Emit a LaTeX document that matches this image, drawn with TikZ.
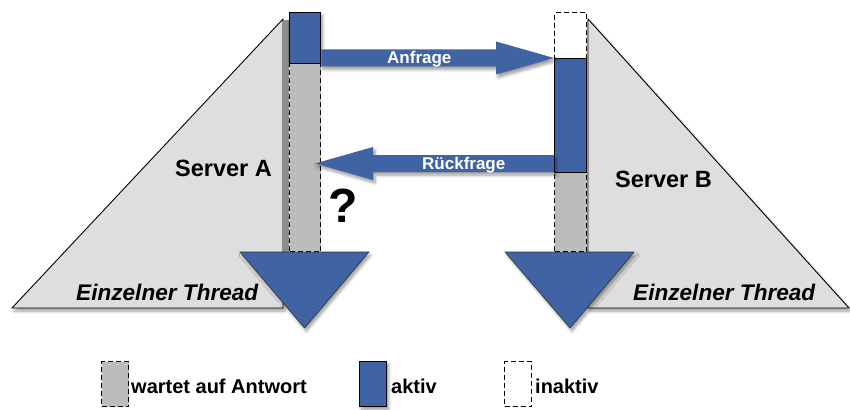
\documentclass[tikz,border=0pt]{standalone}
\usepackage{fontspec}
\setmainfont{Liberation Sans}
\usetikzlibrary{calc,shadows.blur}

\definecolor{actblue}{RGB}{63,99,163}
\definecolor{waitgray}{RGB}{188,188,188}
\definecolor{srvgray}{RGB}{222,222,222}

\tikzset{
  soft/.style={blur shadow={shadow xshift=2pt, shadow yshift=-3pt,
      shadow blur steps=6, shadow blur radius=3pt, shadow opacity=40}},
  seg/.style={rectangle, inner sep=0pt, anchor=north west, line width=1.3pt},
  activeseg/.style={seg, fill=actblue, draw=black},
  waitseg/.style={seg, fill=waitgray, draw=black, dash pattern=on 5pt off 3pt},
  idleseg/.style={seg, fill=white, draw=black, dash pattern=on 5pt off 3pt},
  server/.style={fill=srvgray, draw=black, line width=0.9pt, soft},
  threadtip/.style={fill=actblue, draw=black!80, line width=0.6pt, soft},
  msg/.style={fill=actblue, soft},
  msglabel/.style={inner sep=0pt, anchor=base west, text=white,
      font=\fontsize{17}{17}\selectfont\bfseries},
  bigtext/.style={inner sep=0pt, anchor=base west,
      font=\fontsize{23.5}{23.5}\selectfont\bfseries},
  threadtext/.style={inner sep=0pt, anchor=base west,
      font=\fontsize{22.6}{22.6}\selectfont\bfseries\itshape},
  legendtext/.style={inner sep=0pt, anchor=base west,
      font=\fontsize{20}{20}\selectfont\bfseries},
}

% horizontal block arrow from #1 to #2 (body half height 8.5, head 58 long)
\newcommand\blockarrow[2]{%
  \path[msg] let \p1=(#1), \p2=(#2), \n1={ifthenelse(\x2>\x1,1,-1)} in
    (\x1,{\y1+8.5pt}) -- ({\x2-\n1*58pt},{\y1+8.5pt}) -- ({\x2-\n1*58pt},{\y1+16.5pt})
    -- (\x2,\y2) -- ({\x2-\n1*58pt},{\y1-16.5pt}) -- ({\x2-\n1*58pt},{\y1-8.5pt})
    -- (\x1,{\y1-8.5pt}) -- cycle;}

\begin{document}
\begin{tikzpicture}[x=1pt,y=-1pt]
  \useasboundingbox (0,0) rectangle (850,409);

  % the two servers
  \path[server] (12,308) -- (283,19) -- (283,308) -- cycle;
  \path[server] (588,19) -- (849,308) -- (588,308) -- cycle;
  \fill[black!45] (283,20) rectangle (289,252);
  \fill[black!45] (586,20) rectangle (588,252);

  % thread arrowheads
  \path[threadtip] (240,252) -- (369,252) -- (304.5,328) -- cycle;
  \path[threadtip] (505,252) -- (634,252) -- (570,328) -- cycle;

  % thread of server A
  \node[activeseg, soft, minimum width=31pt, minimum height=51pt] (aAct) at (289,12) {};
  \node[waitseg, minimum width=31pt, minimum height=188pt] (aWait) at (289,63) {};

  % thread of server B
  \node[idleseg, minimum width=32pt, minimum height=46pt] (bIdle) at (554,12) {};
  \node[activeseg, minimum width=32pt, minimum height=114pt] (bAct) at (554,58) {};
  \node[waitseg, minimum width=32pt, minimum height=79pt] (bWait) at (554,172) {};

  % messages between the threads
  \coordinate (reqFrom) at (aAct.east |- 0,58);
  \coordinate (reqTo) at (bAct.north west);
  \blockarrow{reqFrom}{reqTo}
  \node[msglabel] (req) at (387,64) {Anfrage};

  \coordinate (backFrom) at (bAct.west |- 0,163.5);
  \coordinate (backTo) at (315,163.5);
  \blockarrow{backFrom}{backTo}
  \node[msglabel] (back) at (422,169) {Rückfrage};

  % labels
  \node[bigtext] (srvA) at (175,176) {Server A};
  \node[bigtext] (srvB) at (615,187) {Server B};
  \node[threadtext] (thrA) at (76,300) {Einzelner Thread};
  \node[threadtext] (thrB) at (633,300) {Einzelner Thread};
  \node[inner sep=0pt, anchor=base west, font=\fontsize{48}{48}\selectfont\bfseries] (q) at (328,222) {?};

  % legend
  \node[waitseg, minimum width=27pt, minimum height=45pt] (lgWait) at (101,361) {};
  \node[legendtext] (lgWaitT) at (131,393) {wartet auf Antwort};
  \node[activeseg, soft, minimum width=27pt, minimum height=45pt] (lgAct) at (359,361) {};
  \node[legendtext] (lgActT) at (391,393) {aktiv};
  \node[idleseg, minimum width=27pt, minimum height=45pt] (lgIdle) at (504,361) {};
  \node[legendtext] (lgIdleT) at (535,393) {inaktiv};
\end{tikzpicture}
\end{document}
